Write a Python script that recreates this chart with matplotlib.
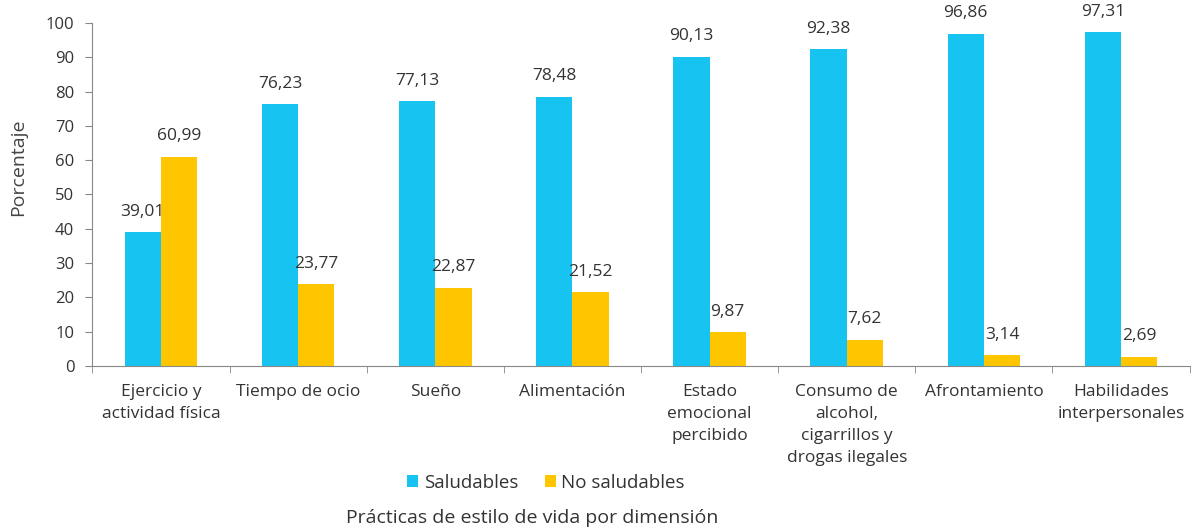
import matplotlib.pyplot as plt
import numpy as np

plt.rcParams['font.family'] = ['Open Sans', 'DejaVu Sans']

# Datos
categorias = ['Ejercicio y\nactividad física', 'Tiempo de ocio', 'Sueño', 'Alimentación',
              'Estado\nemocional\npercibido', 'Consumo de\nalcohol,\ncigarrillos y\ndrogas ilegales',
              'Afrontamiento', 'Habilidades\ninterpersonales']
saludables = [39.01, 76.23, 77.13, 78.48, 90.13, 92.38, 96.86, 97.31]
no_saludables = [60.99, 23.77, 22.87, 21.52, 9.87, 7.62, 3.14, 2.69]

azul = '#17C3F0'
amarillo = '#FFC600'
gris = '#333333'

fig = plt.figure(figsize=(11.92, 5.27), dpi=100)
ax = fig.add_axes([0.0775, 0.3055, 0.9205, 0.651])

x = np.arange(len(categorias))
w = 0.265
b1 = ax.bar(x - w/2, saludables, w, color=azul, label='Saludables')
b2 = ax.bar(x + w/2, no_saludables, w, color=amarillo, label='No saludables')

# Etiquetas de valor
for rects, vals in [(b1, saludables), (b2, no_saludables)]:
    for r, v in zip(rects, vals):
        ax.annotate(f'{v:.2f}'.replace('.', ','), (r.get_x() + r.get_width()/2, v),
                    xytext=(0, 9), textcoords='offset points',
                    ha='center', va='bottom', fontsize=12.5, color=gris)

ax.set_xlim(-0.5, len(categorias) - 0.5)
ax.set_ylim(0, 100)
ax.set_yticks(range(0, 101, 10))
ax.set_xticks(x)
ax.set_xticklabels(categorias, fontsize=12.5, color=gris, linespacing=1.5)
ax.set_xticks(np.arange(-0.5, len(categorias)), minor=True)
ax.tick_params(axis='x', which='major', length=0, pad=13)
ax.tick_params(axis='x', which='minor', length=5, color='#888888')
ax.tick_params(axis='y', length=5, pad=8, color='#888888', labelsize=12, labelcolor=gris)

for s in ['top', 'right']:
    ax.spines[s].set_visible(False)
for s in ['left', 'bottom']:
    ax.spines[s].set_color('#888888')

fig.text(18/1192, 1 - 167/527, 'Porcentaje', rotation=90, ha='center', va='center',
         fontsize=14, color='#444444')

fig.legend(handles=[b1, b2], loc='center', bbox_to_anchor=(546/1192, 1 - 483/527),
           ncol=2, frameon=False, fontsize=13.5, handlelength=0.6, handleheight=0.6,
           columnspacing=1.4, handletextpad=0.3, labelcolor=gris)
fig.text(532/1192, 1 - 518/527, 'Prácticas de estilo de vida por dimensión',
         ha='center', va='center', fontsize=14, color=gris)

fig.savefig('out.png', dpi=100)
